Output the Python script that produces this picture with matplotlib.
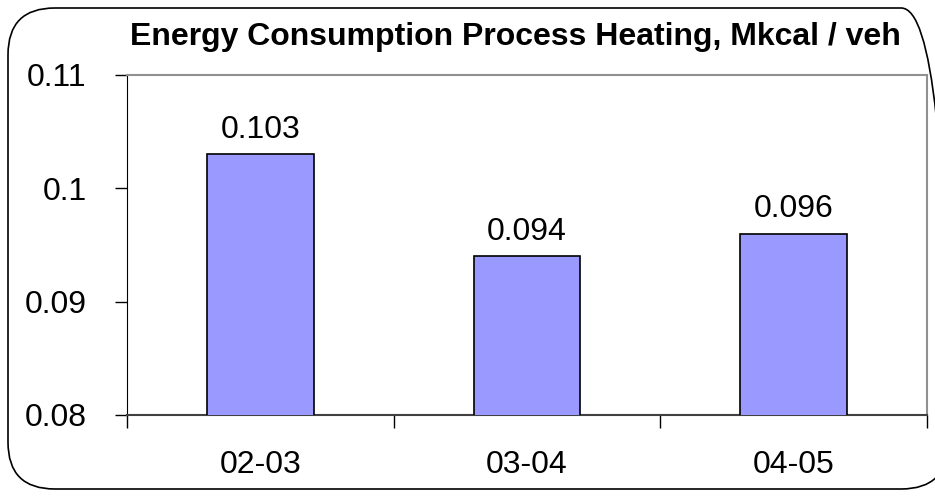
import matplotlib
matplotlib.use("Agg")
import matplotlib.pyplot as plt
from matplotlib.patches import FancyBboxPatch
import numpy as np

plt.rcParams['font.family'] = ['Liberation Sans', 'DejaVu Sans']

categories = ['02-03', '03-04', '04-05']
values = [0.103, 0.094, 0.096]
value_labels = ['0.103', '0.094', '0.096']
yticks = [0.08, 0.09, 0.10, 0.11]
ytick_labels = ['0.08', '0.09', '0.1', '0.11']

fig = plt.figure(figsize=(9.35, 4.97), dpi=100)

# rounded chart border
border = FancyBboxPatch((8 / 935, 8 / 497), 940 / 935, 481 / 497,
                        boxstyle="round,pad=0,rounding_size=0.05",
                        transform=fig.transFigure, fill=False,
                        edgecolor='black', linewidth=1.2, mutation_aspect=935 / 497)
fig.patches.append(border)

ax = fig.add_axes([127 / 935, 1 - 415 / 497, 800 / 935, 340 / 497])
x = np.arange(len(categories))
ax.bar(x, values, width=0.4, bottom=0, color='#9999ff', edgecolor='black', linewidth=1.2, zorder=3)

ax.set_xlim(-0.5, len(categories) - 0.5)
ax.set_ylim(0.08, 0.11)
ax.set_yticks(yticks)
ax.set_yticklabels(ytick_labels, fontsize=23)
ax.set_xticks(x)
ax.set_xticklabels(categories, fontsize=23)
ax.tick_params(axis='x', length=0, pad=25)
ax.set_xticks(np.arange(len(categories) + 1) - 0.5, minor=True)
ax.tick_params(axis='x', which='minor', length=9, width=1, color='black', direction='out')
ax.tick_params(axis='y', length=9, width=1, direction='out', pad=20)

for sp in ['top', 'right']:
    ax.spines[sp].set_color('#909090')
    ax.spines[sp].set_linewidth(1.5)
ax.spines['left'].set_color('black')
ax.spines['bottom'].set_color('#404040')
ax.spines['bottom'].set_linewidth(1.5)

for xi, v, lab in zip(x, values, value_labels):
    ax.annotate(lab, (xi, v), xytext=(0, 7), textcoords='offset points',
                ha='center', va='bottom', fontsize=23)

fig.text(0.5 * (120 + 910) / 935, 1 - 37 / 497, 'Energy Consumption Process Heating, Mkcal / veh',
         ha='center', va='center', fontsize=23, fontweight='bold')

fig.savefig('out.png', dpi=100)
